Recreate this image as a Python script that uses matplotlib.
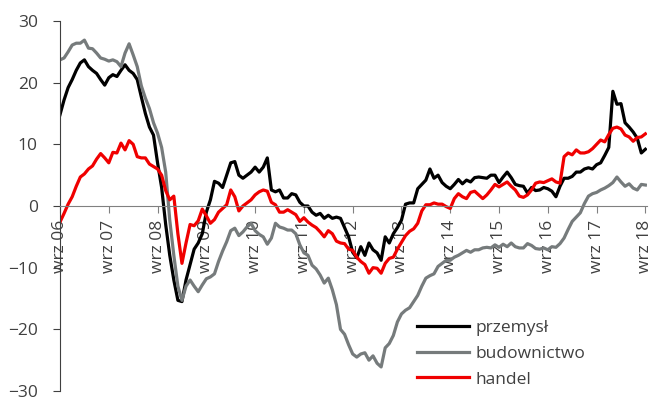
import numpy as np
import matplotlib
matplotlib.use('Agg')
from matplotlib import pyplot as plt

plt.rcParams['font.family'] = ['Open Sans', 'DejaVu Sans']

# monthly data, wrz 06 .. wrz 18
przemysl = [14.8, 17.2, 19.2, 20.5, 22.0, 23.2, 23.7, 22.6, 22.0, 21.5, 20.5, 19.6,
            20.8, 21.3, 21.0, 22.0, 22.9, 22.0, 21.5, 20.5, 17.7, 15.0, 12.8, 11.5,
            7.0, 3.0, -3.0, -8.0, -12.0, -15.3, -15.5, -12.0, -9.5, -7.0, -6.0, -4.5,
            -1.0, 1.0, 4.0, 3.7, 3.0, 5.0, 7.0, 7.2, 5.0, 4.5, 5.0, 5.5,
            6.3, 5.5, 6.3, 7.8, 2.6, 2.3, 2.6, 1.3, 1.3, 2.0, 1.8, 0.6,
            0.0, 0.0, -1.0, -1.5, -1.2, -2.0, -1.5, -2.0, -1.8, -2.0, -3.5, -5.0,
            -7.5, -8.4, -6.6, -8.0, -6.0, -7.1, -7.6, -8.8, -5.0, -6.0, -4.5, -3.5,
            -2.3, 0.3, 0.5, 0.5, 2.8, 3.5, 4.2, 6.0, 4.5, 5.0, 3.8, 3.2,
            2.8, 3.5, 4.3, 3.6, 4.2, 3.9, 4.6, 4.7, 4.6, 4.5, 5.0, 5.0,
            3.8, 4.7, 5.5, 4.6, 3.5, 3.3, 3.2, 2.1, 3.0, 2.5, 2.6, 3.0,
            2.8, 2.4, 1.5, 3.2, 4.5, 4.5, 4.8, 5.5, 5.5, 6.0, 6.2, 6.0,
            6.7, 7.0, 8.2, 9.5, 18.6, 16.5, 16.6, 13.5, 12.8, 12.0, 11.0, 8.6,
            9.2]

budownictwo = [23.7, 24.0, 25.0, 26.1, 26.4, 26.4, 26.9, 25.6, 25.5, 24.8, 24.0, 23.8,
               23.5, 23.7, 23.4, 22.6, 24.8, 26.3, 24.5, 22.6, 19.5, 17.5, 15.8, 13.5,
               11.8, 9.5, 5.5, -2.3, -8.0, -13.0, -15.3, -13.0, -12.0, -13.0, -13.9, -12.8,
               -11.8, -11.5, -11.0, -9.0, -7.3, -5.8, -4.0, -3.6, -4.8, -4.2, -3.4, -2.8,
               -4.0, -4.6, -5.0, -6.2, -5.2, -2.8, -3.4, -3.6, -3.9, -3.9, -4.5, -6.3,
               -7.6, -8.0, -9.6, -10.2, -11.2, -12.5, -11.7, -13.6, -16.0, -20.0, -20.8, -22.5,
               -24.0, -24.5, -24.0, -23.8, -25.0, -24.3, -25.5, -26.1, -23.0, -22.3, -21.0, -18.8,
               -17.5, -16.9, -16.5, -15.5, -14.5, -13.0, -11.7, -11.3, -11.0, -9.8, -9.3, -8.8,
               -8.8, -8.3, -8.0, -7.6, -7.2, -7.5, -7.1, -7.1, -6.8, -6.7, -6.8, -6.3,
               -6.7, -6.2, -6.6, -6.0, -6.6, -6.8, -6.8, -6.1, -6.4, -6.9, -7.0, -6.8,
               -7.1, -6.6, -6.7, -6.1, -5.2, -3.8, -2.5, -1.8, -1.1, 0.4, 1.6, 2.0,
               2.2, 2.6, 2.9, 3.3, 3.8, 4.7, 3.9, 3.2, 3.6, 2.9, 2.6, 3.5,
               3.4]

handel = [-2.6, -1.2, 0.3, 1.5, 3.2, 4.7, 5.2, 6.0, 6.5, 7.6, 8.5, 7.8,
          7.0, 8.7, 8.6, 10.2, 9.1, 10.6, 10.0, 8.0, 7.8, 7.8, 6.8, 6.4,
          6.0, 5.0, 2.5, 1.0, 1.6, -4.5, -9.3, -6.0, -3.0, -3.2, -2.4, -0.5,
          -1.6, -2.8, -2.2, -1.0, -0.4, 0.2, 2.6, 1.5, -0.8, 0.0, 0.5, 1.0,
          1.8, 2.3, 2.6, 2.4, 0.6, 0.2, -1.0, -1.0, -0.6, -1.0, -1.4, -2.5,
          -1.9, -2.6, -3.1, -3.5, -4.2, -5.0, -4.0, -4.5, -5.7, -6.0, -6.1, -7.0,
          -7.2, -8.3, -9.0, -9.5, -10.9, -10.0, -10.1, -10.9, -9.3, -8.5, -8.3, -7.0,
          -5.9, -4.8, -4.1, -3.7, -2.8, -0.8, 0.2, 0.2, 0.5, 0.3, 0.3, -0.1,
          -0.4, 1.2, 2.0, 1.5, 1.2, 2.2, 2.4, 1.8, 1.2, 1.8, 2.6, 3.5,
          3.1, 3.5, 3.9, 3.2, 2.6, 1.6, 1.4, 1.8, 2.6, 3.7, 3.9, 3.8,
          4.1, 4.4, 3.9, 3.7, 8.0, 8.6, 8.3, 9.1, 8.6, 8.6, 8.8, 9.3,
          10.0, 10.7, 10.4, 11.6, 12.6, 12.8, 12.5, 11.5, 11.2, 10.5, 11.1, 11.2,
          11.7]

tick_labels = ['wrz 06', 'wrz 07', 'wrz 08', 'wrz 09', 'wrz 10', 'wrz 11', 'wrz 12',
               'wrz 13', 'wrz 14', 'wrz 15', 'wrz 16', 'wrz 17', 'wrz 18']

x = np.arange(len(przemysl))
text_col = '#404040'

fig = plt.figure(figsize=(6.51, 4.05), dpi=100)
ax = fig.add_axes([60/651, 14/405, 587/651, 370/405])

ax.plot(x, przemysl, color='black', lw=2.3, label='przemysł')
ax.plot(x, budownictwo, color='#767b7c', lw=2.3, label='budownictwo')
ax.plot(x, handel, color='#f00000', lw=2.3, label='handel')

ax.set_xlim(0, 144.4)
ax.set_ylim(-30, 30)
ax.set_yticks([-30, -20, -10, 0, 10, 20, 30])
ax.set_xticks(np.arange(0, len(przemysl), 12))
ax.set_xticklabels(tick_labels)

ax.spines['top'].set_visible(False)
ax.spines['right'].set_visible(False)
ax.spines['bottom'].set_position(('data', 0))
ax.spines['bottom'].set_color('#808080')
ax.spines['left'].set_color('#404040')
ax.tick_params(axis='x', direction='out', length=5, color='#808080', labelsize=12.5,
               labelcolor=text_col, pad=5, labelrotation=90)
ax.tick_params(axis='y', direction='out', length=5, color='#404040', labelsize=12.5,
               labelcolor=text_col, pad=11)

leg = ax.legend(loc='upper left', bbox_to_anchor=(417/651, (405-320)/405),
                bbox_transform=fig.transFigure, frameon=False, fontsize=12.5,
                handlelength=3.0, handletextpad=0.35, labelspacing=0.55,
                borderpad=0, borderaxespad=0)
for t in leg.get_texts():
    t.set_color(text_col)

plt.savefig('out.png', dpi=100)
